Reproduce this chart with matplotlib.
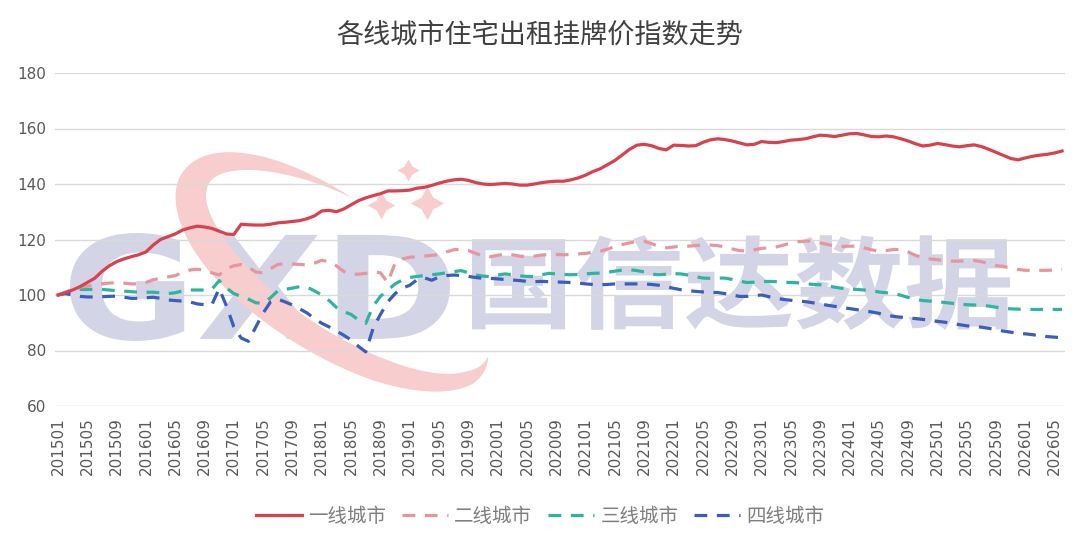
import matplotlib
matplotlib.use("Agg")
import matplotlib.pyplot as plt
from matplotlib.patches import Polygon, PathPatch
from matplotlib.textpath import TextPath
from matplotlib.font_manager import FontProperties
from matplotlib.transforms import IdentityTransform, Affine2D
import numpy as np

plt.rcParams['font.family'] = ['Noto Sans CJK SC', 'DejaVu Sans']

title = "各线城市住宅出租挂牌价指数走势"
names = ["一线城市", "二线城市", "三线城市", "四线城市"]

# monthly index, 201501 .. 202606
months = [f"{y}{m:02d}" for y in range(2015, 2027) for m in range(1, 13)][:138]

tier1 = [
    100, 100.8, 101.8, 103, 104.5, 106, 108.5, 110.5, 112, 113,
    113.8, 114.5, 115.5, 118, 120, 121, 122, 123.4, 124.2, 124.8,
    124.5, 124, 123, 122, 121.8, 125.5, 125.3, 125.2, 125.2, 125.5,
    126, 126.2, 126.5, 126.8, 127.5, 128.5, 130.3, 130.5, 130, 131,
    132.5, 134, 135, 135.8, 136.5, 137.5, 137.5, 137.6, 137.8, 138.5,
    138.8, 139.5, 140.3, 141, 141.5, 141.7, 141.3, 140.5, 140, 139.8,
    140, 140.2, 140, 139.6, 139.6, 140, 140.5, 140.8, 141, 141,
    141.5, 142.2, 143.2, 144.5, 145.5, 147, 148.5, 150.5, 152.5, 154,
    154.3, 153.8, 152.8, 152.3, 154, 153.9, 153.7, 153.8, 155, 155.9,
    156.3, 156, 155.5, 154.8, 154.1, 154.3, 155.3, 155, 154.9, 155.3,
    155.8, 156, 156.3, 157, 157.6, 157.4, 157.1, 157.6, 158.1, 158.2,
    157.7, 157.1, 157, 157.3, 157, 156.3, 155.5, 154.5, 153.7, 154,
    154.6, 154.2, 153.7, 153.4, 153.8, 154.1, 153.5, 152.5, 151.4, 150.3,
    149.2, 148.7, 149.4, 150, 150.4, 150.7, 151.2, 151.9]

tier2 = [
    100, 101, 102, 102.8, 103.2, 103.5, 104, 104.3, 104.4, 104.3,
    104, 104, 104.5, 105.5, 106, 106.5, 107, 108, 109, 109.3,
    109, 108, 107.2, 109.5, 110.5, 111, 110, 108.3, 108, 109.5,
    111, 111.3, 111.2, 111, 110.8, 111.5, 112.5, 112, 110.5, 108.5,
    107.5, 107.5, 107.8, 108.3, 108, 104.5, 111.5, 113, 113.6, 113.8,
    114, 114.3, 114.5, 115.5, 116.3, 116.5, 116, 115, 114, 113.8,
    114.3, 114.8, 114.5, 114, 113.8, 114, 114.4, 114.6, 114.6, 114.5,
    114.6, 114.8, 115, 115.4, 115.8, 116.5, 117.5, 118.2, 118.8, 119.3,
    119.4, 118.5, 117.5, 117, 117.3, 117.6, 117.6, 117.8, 118, 118,
    117.8, 117.3, 116.6, 116, 115.8, 116.3, 116.8, 117, 117.3, 118,
    118.7, 119.2, 119.4, 119.4, 118.8, 118.2, 117.6, 117.5, 117.6, 117.6,
    117, 116.3, 115.8, 116, 116.4, 116.4, 115.5, 114.3, 113.2, 113,
    112.7, 112.4, 112.2, 112.2, 112.3, 112.4, 112, 111.3, 110.6, 110.3,
    109.7, 109.2, 108.9, 108.9, 108.9, 108.9, 109, 109.2]

tier3 = [
    100, 100.8, 101.5, 102, 102, 102, 102, 101.8, 101.5, 101.4,
    101.2, 101, 101, 101, 100.8, 100.5, 100.8, 101.5, 101.8, 101.8,
    101.8, 102, 105.2, 102.5, 100.5, 99.5, 98.5, 97.2, 97, 99,
    101.5, 102, 102.5, 103, 102.8, 101.5, 100, 98, 95.5, 94,
    93, 91, 89.8, 96, 99.5, 101.8, 104, 105.4, 106.3, 106.7,
    107, 107.3, 107.6, 108, 108.4, 108.8, 108, 107.2, 106.8, 106.6,
    107.2, 107.6, 107.3, 106.9, 106.7, 106.6, 107.3, 107.8, 107.6, 107.4,
    107.3, 107.4, 107.6, 107.8, 107.9, 108.2, 108.6, 109, 109.1, 108.8,
    108.3, 107.5, 107.3, 107.5, 107.7, 107.6, 107.2, 106.6, 106.1, 106,
    106.1, 106.1, 105.6, 105, 104.5, 104.6, 104.8, 104.9, 104.8, 104.6,
    104.5, 104.4, 104.1, 103.8, 103.7, 103.3, 102.8, 102.4, 102.2, 102,
    101.8, 101.5, 101.1, 100.8, 100.6, 99.9, 99.1, 98.4, 98, 97.8,
    97.6, 97.3, 97, 96.7, 96.5, 96.4, 96.3, 96, 95.6, 95.2,
    95, 94.9, 94.8, 94.8, 94.8, 94.8, 94.8, 94.8]

tier4 = [
    100, 100.5, 100, 99.5, 99.3, 99.3, 99.4, 99.5, 99.6, 99.2,
    98.8, 98.8, 99, 99.2, 98.8, 98.2, 98, 97.8, 97.5, 96.8,
    96.5, 96.5, 102.3, 96, 88.5, 84.5, 83.3, 88.5, 93.5, 97.5,
    98.5, 97.5, 96.4, 95, 93.5, 91.5, 89.8, 88.5, 87, 85.5,
    83.8, 81.5, 79.5, 88, 93, 97.5, 100.5, 102.5, 103.5, 105.5,
    106.2, 105.3, 106.5, 107, 107.2, 107, 106.7, 106.3, 106, 106,
    105.8, 105.6, 105.4, 105.2, 104.9, 104.8, 104.9, 104.8, 104.7, 104.6,
    104.5, 104.3, 104, 103.8, 103.7, 103.8, 104, 104, 104, 104,
    104, 103.8, 103.5, 103, 102.4, 101.9, 101.6, 101.3, 101.1, 100.9,
    100.9, 100.5, 100, 99.5, 99.5, 99.8, 100, 99.4, 98.8, 98.4,
    98.1, 97.8, 97.6, 97.2, 96.8, 96.3, 95.9, 95.5, 95.1, 94.7,
    94.3, 93.9, 93.4, 92.8, 92.3, 92, 91.7, 91.5, 91.2, 90.9,
    90.5, 90.2, 89.8, 89.3, 88.9, 88.7, 88.4, 88, 87.5, 87,
    86.6, 86.2, 86, 85.7, 85.3, 85, 84.8, 84.6]

colors = ['#D9414E', '#E8959F', '#2DB5A1', '#3A5DBE']

W, H = 1080, 549
fig = plt.figure(figsize=(W / 100, H / 100), dpi=100)
ax = fig.add_axes([55 / W, 1 - 406 / H, 1010 / W, 333 / H])


def watermark_text(s, box, fam, color):
    # stretch a text outline into a pixel box (x0, y0, x1, y1), y measured from top
    tp = TextPath((0, 0), s, size=100, prop=FontProperties(family=fam, weight='bold'))
    ext = tp.get_extents()
    x0, y0, x1, y1 = box
    sx = (x1 - x0) / ext.width
    sy = (y1 - y0) / ext.height
    tr = (Affine2D().translate(-ext.x0, -ext.y0).scale(sx, sy)
          .translate(x0, H - y1) + IdentityTransform())
    ax.add_patch(PathPatch(tp, transform=tr, fc=color, ec='none',
                           zorder=0.1, clip_on=False))


wm = '#d3d4e5'
pink = '#f7cdcd'
watermark_text("GXD", (70, 233, 450, 341), 'DejaVu Sans', wm)
watermark_text("国信达数据", (472, 235, 1010, 330), 'Noto Sans CJK SC', wm)

# tapered orbit swoosh of the logo
a, b = 172, 70
deg = np.linspace(100, 368, 240)
t = np.radians(deg)
lx, ly = a * np.cos(t), b * np.sin(t)
nx, ny = b * np.cos(t), a * np.sin(t)
nn = np.hypot(nx, ny)
nx, ny = nx / nn, ny / nn
hw = np.interp(deg, [100, 130, 185, 230, 300, 345, 368], [0, 6, 15, 16, 12, 7, 0])
ring = np.concatenate([np.column_stack([lx + hw * nx, ly + hw * ny]),
                       np.column_stack([lx - hw * nx, ly - hw * ny])[::-1]])
ring_tr = Affine2D().rotate_deg(-33).translate(340, H - 272) + IdentityTransform()
ax.add_patch(Polygon(ring, closed=True, transform=ring_tr, fc=pink, ec='none',
                     zorder=0.2, clip_on=False))
for sx_, sy_, ms_ in [(408, 170, 16), (427, 203, 24), (381, 205, 20)]:
    ax.plot([sx_], [H - sy_], ls='none', marker=(4, 1, 0), ms=ms_, color=pink,
            mec='none', transform=IdentityTransform(), zorder=0.2, clip_on=False)

x = np.arange(len(months))
ax.plot(x, tier1, color=colors[0], lw=2.3, label=names[0], zorder=5)
ax.plot(x, tier2, color=colors[1], lw=2.3, dashes=(4, 3), label=names[1], zorder=4)
ax.plot(x, tier3, color=colors[2], lw=2.3, dashes=(4, 3), label=names[2], zorder=3)
ax.plot(x, tier4, color=colors[3], lw=2.3, dashes=(4, 3), label=names[3], zorder=3)

ax.set_xlim(-0.4, 137.4)
ax.set_ylim(60, 180)
ax.set_yticks(range(60, 181, 20))
ax.set_xticks(x[::4])
ax.set_xticklabels(months[::4], rotation=90, family='DejaVu Sans')
for lab in ax.get_yticklabels():
    lab.set_family('DejaVu Sans')
ax.tick_params(axis='both', length=0, colors='#595959', labelsize=11)
ax.tick_params(axis='x', pad=8)
ax.tick_params(axis='y', pad=6)
ax.grid(axis='y', color='#d9d9d9', lw=1)
ax.set_axisbelow(True)
for s in ax.spines.values():
    s.set_visible(False)

fig.text(0.5, 1 - 35 / H, title, ha='center', va='center', fontsize=19.5,
         color='#404040')

fig.legend(loc='center', bbox_to_anchor=(0.5, 1 - 516 / H), ncol=4,
           frameon=False, fontsize=14, labelcolor='#7f7f7f', handlelength=2.4,
           handletextpad=0.3, columnspacing=0.8)

fig.savefig("out.png", dpi=100)
